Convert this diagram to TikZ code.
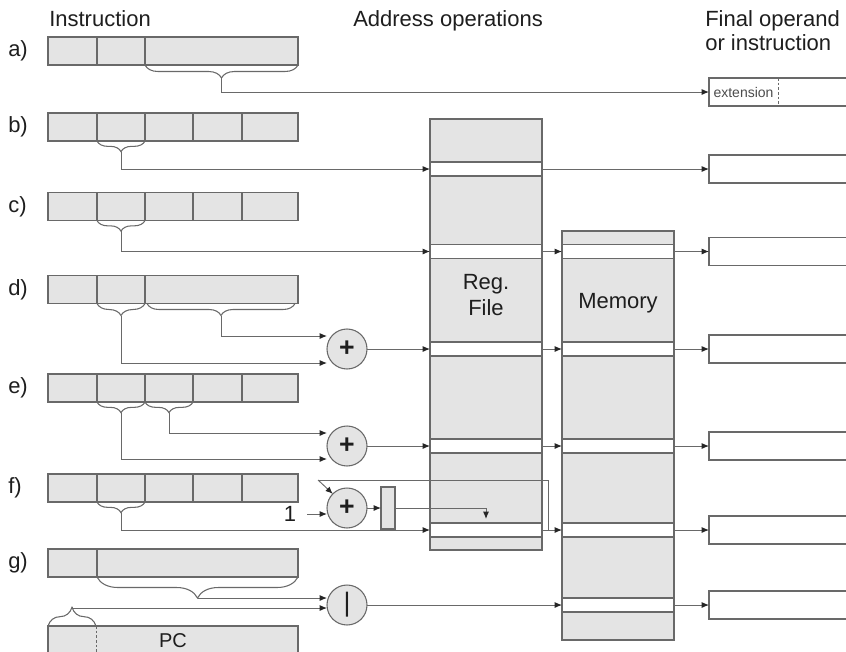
\documentclass[tikz,border=0pt]{standalone}
\usepackage{fontspec}
\setmainfont{Liberation Sans}
\usetikzlibrary{arrows.meta,calc,decorations.pathreplacing}
\definecolor{cellgray}{RGB}{228,228,228}
\definecolor{linegray}{RGB}{105,105,105}
\definecolor{inkgray}{RGB}{30,30,30}

\begin{document}
\begin{tikzpicture}[x=0.75pt,y=0.75pt,yscale=-1,xscale=1,
  field/.style={draw=linegray,fill=cellgray,line width=0.8pt,minimum height=21pt,inner sep=0pt,outer sep=0pt},
  store/.style={draw=linegray,fill=cellgray,line width=0.8pt,minimum width=84pt,inner sep=0pt,outer sep=0pt},
  band/.style={draw=linegray,fill=white,line width=0.8pt,minimum width=84pt,minimum height=10.5pt,inner sep=0pt,outer sep=0pt},
  result/.style={draw=linegray,fill=white,line width=0.8pt,minimum width=128.25pt,minimum height=21pt,inner sep=0pt,outer sep=0pt},
  adder/.style={circle,draw=linegray,fill=cellgray,line width=0.8pt,minimum size=30pt,inner sep=0pt,outer sep=0pt,text=inkgray,font=\fontsize{20}{20}\selectfont\bfseries},
  lbl/.style={text=inkgray,font=\fontsize{16.5}{18.5}\selectfont,inner sep=0pt},
  brc/.style={draw=linegray,line width=0.8pt,decorate,decoration={brace,mirror,amplitude=#1}},
  brcup/.style={draw=linegray,line width=0.8pt,decorate,decoration={brace,amplitude=#1}},
  link/.style={draw=linegray,line width=0.7pt},
  arr/.style={draw=linegray,line width=0.7pt,-{Latex[length=5.5pt,width=4.5pt,color=black!85]}}
]
\useasboundingbox (0,0) rectangle (846,651);
\clip (0,0) rectangle (846,651);

% Text Node
\node[lbl,anchor=base west] (hins) at (49,26) {Instruction};
% Text Node
\node[lbl,anchor=base west] (hadr) at (353,26) {Address operations};
% Text Node
\node[lbl,anchor=north west,align=left] (hfin) at (705,10) {Final operand\\or instruction};

% Text Node
\node[lbl,anchor=west] (la) at (8,51) {a)};
\node[lbl,anchor=west] (lb) at (8,127) {b)};
\node[lbl,anchor=west] (lc) at (8,206.5) {c)};
\node[lbl,anchor=west] (ld) at (8,289.5) {d)};
\node[lbl,anchor=west] (le) at (8,388) {e)};
\node[lbl,anchor=west] (lf) at (8,488) {f)};
\node[lbl,anchor=west] (lg) at (8,563) {g)};

%Shape: Instruction fields a)
\node[field,minimum width=36.75pt] (a1) at (72.5,51) {};
\node[field,minimum width=36pt] (a2) at (121,51) {};
\node[field,minimum width=114.75pt] (a3) at (221.5,51) {};
%Shape: Instruction fields b)
\node[field,minimum width=36.75pt] (b1) at (72.5,127) {};
\node[field,minimum width=36pt] (b2) at (121,127) {};
\node[field,minimum width=36pt] (b3) at (169,127) {};
\node[field,minimum width=36.75pt] (b4) at (217.5,127) {};
\node[field,minimum width=42pt] (b5) at (270,127) {};
%Shape: Instruction fields c)
\node[field,minimum width=36.75pt] (c1) at (72.5,206.5) {};
\node[field,minimum width=36pt] (c2) at (121,206.5) {};
\node[field,minimum width=36pt] (c3) at (169,206.5) {};
\node[field,minimum width=36.75pt] (c4) at (217.5,206.5) {};
\node[field,minimum width=42pt] (c5) at (270,206.5) {};
%Shape: Instruction fields d)
\node[field,minimum width=36.75pt] (d1) at (72.5,289.5) {};
\node[field,minimum width=36pt] (d2) at (121,289.5) {};
\node[field,minimum width=114.75pt] (d3) at (221.5,289.5) {};
%Shape: Instruction fields e)
\node[field,minimum width=36.75pt] (e1) at (72.5,388) {};
\node[field,minimum width=36pt] (e2) at (121,388) {};
\node[field,minimum width=36pt] (e3) at (169,388) {};
\node[field,minimum width=36.75pt] (e4) at (217.5,388) {};
\node[field,minimum width=42pt] (e5) at (270,388) {};
%Shape: Instruction fields f)
\node[field,minimum width=36.75pt] (f1) at (72.5,488) {};
\node[field,minimum width=36pt] (f2) at (121,488) {};
\node[field,minimum width=36pt] (f3) at (169,488) {};
\node[field,minimum width=36.75pt] (f4) at (217.5,488) {};
\node[field,minimum width=42pt] (f5) at (270,488) {};
%Shape: Instruction fields g)
\node[field,minimum width=36.75pt] (g1) at (72.5,563) {};
\node[field,minimum width=150.75pt] (g2) at (197.5,563) {};
%Shape: PC
\node[field,minimum width=187.5pt,minimum height=22.5pt,text=inkgray,font=\fontsize{15}{15}\selectfont] (pc) at (173,641) {PC};
\draw[linegray,line width=0.7pt,dash pattern=on 2pt off 1.5pt] ($(pc.north west)+(48,0)$) -- ($(pc.south west)+(48,0)$);

%Shape: Register file
\node[store,minimum height=323.25pt] (reg) at (486,334.5) {};
\node[band] (rb) at (486,169) {};
\node[band] (rc) at (486,251.5) {};
\node[band] (rd) at (486,349) {};
\node[band] (re) at (486,446) {};
\node[band] (rf) at (486,530) {};
% Text Node
\node[lbl,align=center,font=\fontsize{16.5}{19.5}\selectfont] (reglbl) at (486,295) {Reg.\\File};

%Shape: Memory
\node[store,minimum height=306.75pt] (mem) at (618,435.5) {};
\node[band] (mc) at (618,251.5) {};
\node[band] (md) at (618,349) {};
\node[band] (me) at (618,446) {};
\node[band] (mf) at (618,530) {};
\node[band] (mg) at (618,605) {};
% Text Node
\node[lbl] (memlbl) at (618,303) {Memory};

%Shape: Final operands
\node[result] (oa) at (794.5,92) {};
\draw[linegray,line width=0.7pt,dash pattern=on 2pt off 1.5pt] ($(oa.north west)+(69,0)$) -- ($(oa.south west)+(69,0)$);
\node[lbl,text=black!70,font=\fontsize{10.5}{10.5}\selectfont] (ext) at (743.5,92) {extension};
\node[result] (ob) at (794.5,169) {};
\node[result] (oc) at (794.5,251.5) {};
\node[result] (od) at (794.5,349) {};
\node[result] (oe) at (794.5,446) {};
\node[result] (of) at (794.5,530) {};
\node[result] (og) at (794.5,605) {};

%Shape: Adders
\node[adder] (dsum) at (347,349) {+};
\node[adder] (esum) at (347,446) {+};
\node[adder] (fsum) at (347,508) {+};
\node[adder] (gor) at (347,605) {\raisebox{-3pt}{\mdseries|}};
\node[field,minimum width=10.5pt,minimum height=31.5pt] (fbuf) at (388,508) {};
% Text Node
\node[lbl] (one) at (290,514) {1};

%Braces
\draw[brc=9.75pt] (a3.south west) -- (a3.south east);
\coordinate (ta) at ($(a3.south)+(0,13)$);
\draw[brc=8pt] (b2.south west) -- (b2.south east);
\coordinate (tb) at ($(b2.south)+(0,10.7)$);
\draw[brc=8pt] (c2.south west) -- (c2.south east);
\coordinate (tc) at ($(c2.south)+(0,10.7)$);
\draw[brc=9pt] (d2.south west) -- (d2.south east);
\coordinate (td) at ($(d2.south)+(0,12)$);
\draw[brc=9pt] ($(d3.south west)+(2,0)$) -- ($(d3.south east)+(-3,0)$);
\coordinate (tdd) at ($(d3.south)+(0,12)$);
\draw[brc=8pt] (e2.south west) -- (e2.south east);
\coordinate (te) at ($(e2.south)+(0,10.7)$);
\draw[brc=8pt] (e3.south west) -- (e3.south east);
\coordinate (tee) at ($(e3.south)+(0,10.7)$);
\draw[brc=8pt] (f2.south west) -- (f2.south east);
\coordinate (tf) at ($(f2.south)+(0,10.7)$);
\draw[brc=15.75pt] (g2.south west) -- (g2.south east);
\coordinate (tg) at ($(g2.south)+(0,21)$);
\draw[brcup=14pt] (pc.north west) -- ($(pc.north west)+(48,0)$);
\coordinate (tpc) at ($(pc.north west)+(24,-18.7)$);

%Straight Lines a)
\draw[arr] (ta) |- (oa.west);
%Straight Lines b)
\draw[arr] (tb) |- (rb.west);
\draw[arr] (rb.east) -- (ob.west);
%Straight Lines c)
\draw[arr] (tc) |- (rc.west);
\draw[arr] (rc.east) -- (mc.west);
\draw[arr] (mc.east) -- (oc.west);
%Straight Lines d)
\draw[arr] (tdd) |- ($(dsum.west)+(0,-13)$);
\draw[arr] (td) |- ($(dsum.west)+(0,14)$);
\draw[arr] (dsum.east) -- (rd.west);
\draw[arr] (rd.east) -- (md.west);
\draw[arr] (md.east) -- (od.west);
%Straight Lines e)
\draw[arr] (tee) |- ($(esum.west)+(0,-13)$);
\draw[arr] (te) |- ($(esum.west)+(0,13)$);
\draw[arr] (esum.east) -- (re.west);
\draw[arr] (re.east) -- (me.west);
\draw[arr] (me.east) -- (oe.west);
%Straight Lines f)
\draw[arr] (tf) |- (rf.west);
\draw[arr] ($(one.east)+(11,0)$) -- ($(fsum.west)+(0,6)$);
\draw[arr] (fsum.east) -- (fbuf.west);
\draw[arr] (fbuf.east) -| ($(rf.north)+(0,-4)$);
\draw[arr] (rf.east) -- (mf.west);
\coordinate (fj) at ($(rf.east)!0.3!(mf.west)$);
\coordinate (fk) at (318,480);
\draw[link] (fj) |- (fk);
\draw[arr] (fk) -- (fsum.135);
\draw[arr] (mf.east) -- (of.west);
%Straight Lines g)
\draw[arr] (tg) |- ($(gor.west)+(0,-7)$);
\draw[arr] (tpc) |- ($(gor.west)+(0,3)$);
\draw[arr] (gor.east) -- (mg.west);
\draw[arr] (mg.east) -- (og.west);

\end{tikzpicture}
\end{document}
